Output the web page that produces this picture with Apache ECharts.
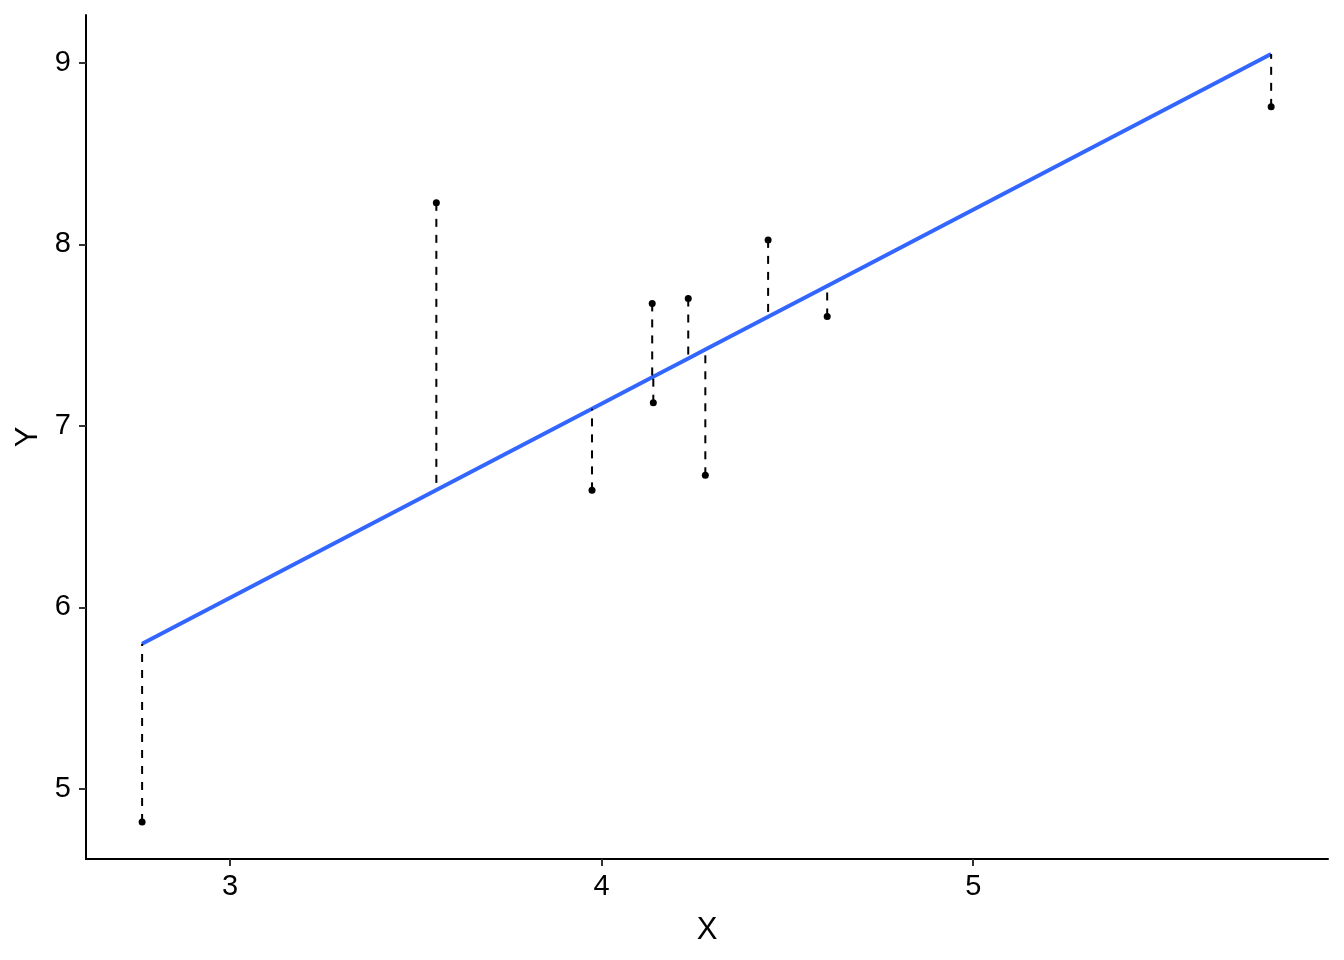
<!DOCTYPE html>
<html>
<head>
<meta charset="utf-8">
<title>Residuals</title>
<script src="https://cdn.jsdelivr.net/npm/echarts@6/dist/echarts.min.js"></script>
<style>
  html, body { margin: 0; padding: 0; background: #fff; }
  #chart { width: 1344px; height: 960px; }
</style>
</head>
<body>
<div id="chart"></div>
<script>
// observed points
const xVals = [2.763, 3.555, 3.974, 4.136, 4.139, 4.233, 4.279, 4.448, 4.607, 5.802];
const yVals = [4.818, 8.229, 6.645, 7.675, 7.128, 7.702, 6.728, 8.025, 7.603, 8.758];
// fitted values on the regression line
const fitVals = [5.800, 6.647, 7.095, 7.268, 7.271, 7.371, 7.421, 7.601, 7.771, 9.049];
// tick labels
const xTicks = [3, 4, 5];
const yTicks = [5, 6, 7, 8, 9];

const points = xVals.map((x, i) => [x, yVals[i]]);
const fitLine = xVals.map((x, i) => [x, fitVals[i]]);
const resid = xVals.map((x, i) => [x, yVals[i], fitVals[i]]);

const font = "'Liberation Sans', Arial, sans-serif";

var myChart = echarts.init(document.getElementById('chart'));
myChart.setOption({
    animation: false,
    backgroundColor: '#ffffff',
    grid: {
        left: 86,
        right: 16,
        top: 15,
        bottom: 101
    },
    xAxis: {
        type: 'value',
        min: 2.612,
        max: 5.955,
        name: 'X',
        nameLocation: 'middle',
        nameGap: 56,
        nameTextStyle: { color: '#000', fontSize: 31, fontFamily: font },
        splitLine: { show: false },
        axisLine: { onZero: false, lineStyle: { color: '#000', width: 2 } },
        axisTick: { customValues: xTicks, length: 7, lineStyle: { color: '#333', width: 2 } },
        axisLabel: { customValues: xTicks, color: '#000', fontSize: 29, fontFamily: font, margin: 13 }
    },
    yAxis: {
        type: 'value',
        min: 4.614,
        max: 9.264,
        name: 'Y',
        nameLocation: 'middle',
        nameGap: 41,
        nameTextStyle: { color: '#000', fontSize: 31, fontFamily: font },
        splitLine: { show: false },
        axisLine: { show: true, onZero: false, lineStyle: { color: '#000', width: 2 } },
        axisTick: { show: true, customValues: yTicks, length: 7, lineStyle: { color: '#333', width: 2 } },
        axisLabel: { customValues: yTicks, color: '#000', fontSize: 29, fontFamily: font, margin: 15 }
    },
    series: [{
        // regression line
        type: 'line',
        data: fitLine,
        symbol: 'none',
        lineStyle: { color: '#3366FF', width: 4 },
        z: 2
    }, {
        // residual segments
        type: 'custom',
        data: resid,
        renderItem: function (params, api) {
            var p1 = api.coord([api.value(0), api.value(1)]);
            var p2 = api.coord([api.value(0), api.value(2)]);
            return {
                type: 'line',
                shape: { x1: p1[0], y1: p1[1], x2: p2[0], y2: p2[1] },
                style: { stroke: '#000', lineWidth: 2, lineDash: [8, 8] }
            };
        },
        z: 3
    }, {
        type: 'scatter',
        data: points,
        symbol: 'circle',
        symbolSize: 7,
        itemStyle: { color: '#000', opacity: 1 },
        z: 4
    }]
});
</script>
</body>
</html>
